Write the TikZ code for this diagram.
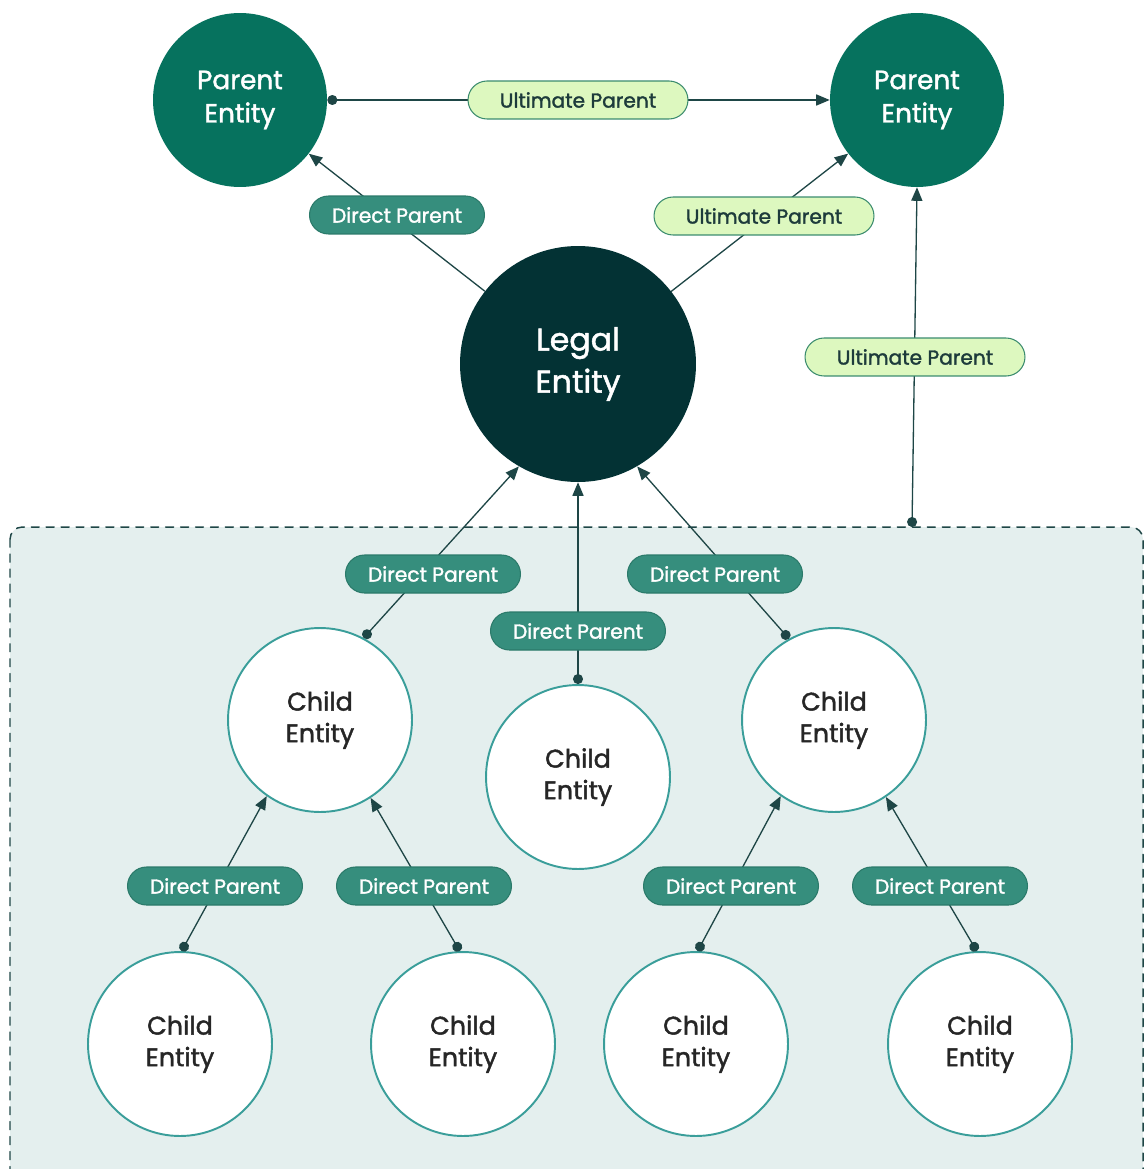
\documentclass[tikz,border=0pt]{standalone}
\usepackage{fontspec}
\setmainfont{Poppins}[BoldFont=Poppins,BoldFeatures={FakeBold=1.6}]
\usepackage{tikz}
\usetikzlibrary{arrows}
\usetikzlibrary{shapes.misc}

\definecolor{parentgreen}{HTML}{06725E}
\definecolor{legaldark}{HTML}{033234}
\definecolor{childring}{HTML}{3A9E9A}
\definecolor{childtext}{HTML}{262626}
\definecolor{boxfill}{HTML}{E4EFEE}
\definecolor{linedark}{HTML}{1E4646}
\definecolor{directfill}{HTML}{368E7D}
\definecolor{directedge}{HTML}{2B7A6A}
\definecolor{ultfill}{HTML}{DDF8BF}
\definecolor{ultedge}{HTML}{3B8C6E}
\definecolor{ulttext}{HTML}{1D3B3B}

\tikzset{
parent/.style={circle,fill=parentgreen,text=white,inner sep=0pt,
 minimum size=3.48cm,align=center,font=\fontsize{15}{19}\selectfont\bfseries},
legal/.style={circle,fill=legaldark,text=white,inner sep=0pt,
 minimum size=4.72cm,align=center,font=\fontsize{18}{24}\selectfont\bfseries},
child/.style={circle,draw=childring,line width=1.1pt,fill=white,text=childtext,
 inner sep=0pt,minimum size=3.68cm,align=center,
 font=\fontsize{14.5}{18}\selectfont\bfseries},
direct/.style={rounded rectangle,draw=directedge,line width=0.6pt,fill=directfill,
 text=white,inner sep=0pt,minimum width=3.5cm,minimum height=0.76cm,
 font=\fontsize{11.5}{13}\selectfont\bfseries},
ultimate/.style={rounded rectangle,draw=ultedge,line width=0.6pt,fill=ultfill,
 text=ulttext,inner sep=0pt,minimum width=4.4cm,minimum height=0.76cm,
 font=\fontsize{11.5}{13}\selectfont\bfseries},
link/.style={draw=linedark,line width=0.75pt}
}

\begin{document}
\begin{tikzpicture}[line cap=round,line join=round,>=triangle 45,x=0.02cm,
y=-0.02cm]
\useasboundingbox (0,0) rectangle (1145,1169);
% Vùng nền các thực thể con
\draw[fill=boxfill,draw=linedark,line width=0.85pt,dash pattern=on 4.5pt off 4pt,
rounded corners=7pt] (10,527) rectangle (1143,1200);
\coordinate (boxtop) at (912,527);

% Vẽ các nút tròn
\node[parent] (lp) at (240,100) {Parent\\Entity};
\node[parent] (rp) at (917,100) {Parent\\Entity};
\node[legal] (le) at (578,364) {Legal\\Entity};
\node[child] (c1) at (320,720) {Child\\Entity};
\node[child] (c2) at (578,777) {Child\\Entity};
\node[child] (c3) at (834,720) {Child\\Entity};
\node[child] (g1) at (180,1044) {Child\\Entity};
\node[child] (g2) at (463,1044) {Child\\Entity};
\node[child] (g3) at (696,1044) {Child\\Entity};
\node[child] (g4) at (980,1044) {Child\\Entity};

% Vẽ các mũi tên
\draw[link,*->] (lp.east) -- (rp.west);
\draw[link,->] (le) -- (lp);
\draw[link,->] (le) -- (rp);
\draw[link,*->] (boxtop) -- (rp.south);
\draw[link,*->] (c1.62) -- (le.240);
\draw[link,*->] (c2.north) -- (le.south);
\draw[link,*->] (c3.119) -- (le.300);
\draw[link,*->] (g1.89) -- (c1.235);
\draw[link,*->] (g2.92) -- (c1.303);
\draw[link,*->] (g3.89) -- (c3.235);
\draw[link,*->] (g4.92) -- (c3.304);

% Nhãn quan hệ
\node[ultimate] (u1) at (578,100) {Ultimate Parent};
\node[direct] (d0) at (397,215) {Direct Parent};
\node[ultimate] (u2) at (764,216) {Ultimate Parent};
\node[ultimate] (u3) at (915,357) {Ultimate Parent};
\node[direct] (d1) at (433,574) {Direct Parent};
\node[direct] (d2) at (578,631) {Direct Parent};
\node[direct] (d3) at (715,574) {Direct Parent};
\node[direct] (d4) at (215,886) {Direct Parent};
\node[direct] (d5) at (424,886) {Direct Parent};
\node[direct] (d6) at (731,886) {Direct Parent};
\node[direct] (d7) at (940,886) {Direct Parent};

\end{tikzpicture}
\end{document}
